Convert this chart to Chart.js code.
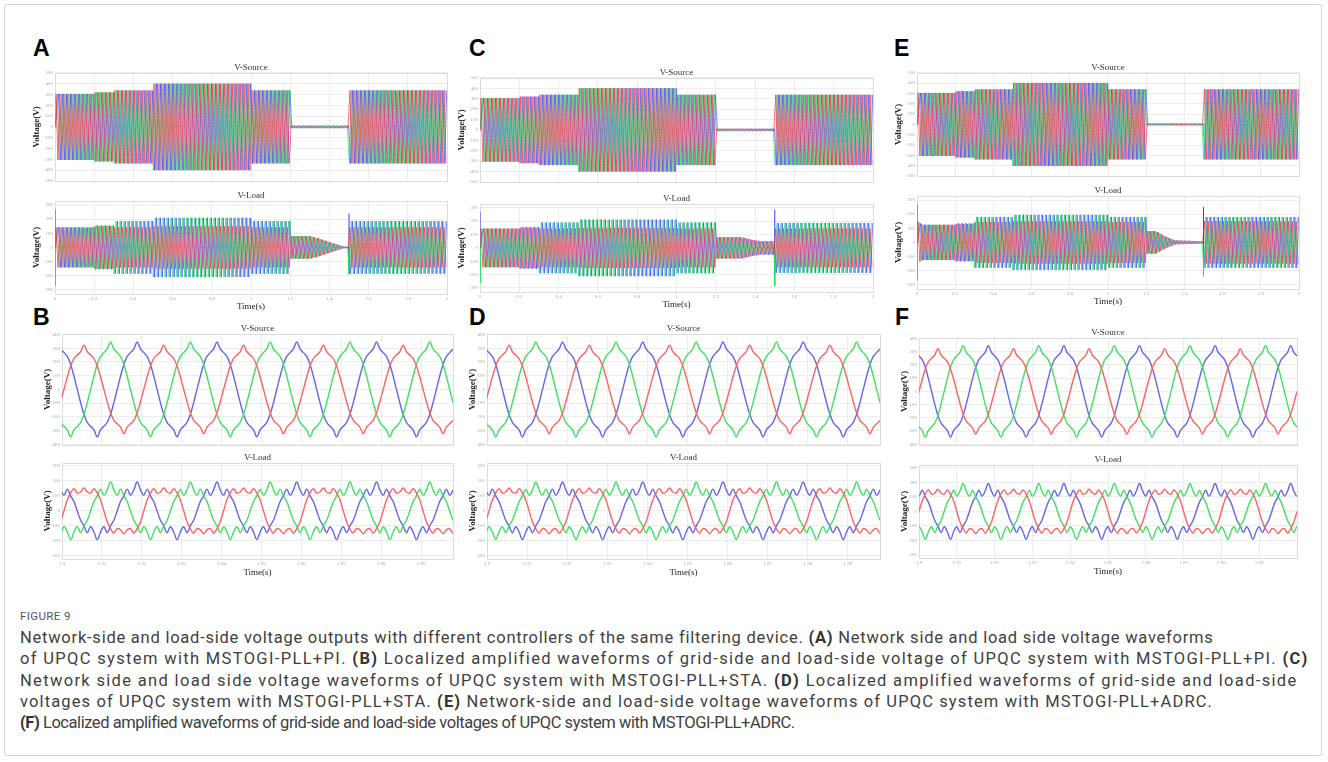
<!DOCTYPE html>
<html>
<head>
<meta charset="utf-8">
<script src="https://cdn.jsdelivr.net/npm/chart.js@4.4.0/dist/chart.umd.min.js"></script>
<style>
body { margin:0; background:#fff; width:1328px; height:762px; position:relative; overflow:hidden; font-family:Roboto, "Noto Sans", sans-serif; }
#card { position:absolute; left:4px; top:4px; width:1318px; height:752px; border:1px solid #d2d2d2; border-radius:3px; box-sizing:border-box; }
.lbl { position:absolute; font:bold 23px "Liberation Sans", Arial, sans-serif; color:#000; line-height:23px; }
canvas { position:absolute; }
#cap { position:absolute; left:20px; top:606px; color:#404040; }
#cap .fig { font-size:11.5px; letter-spacing:0.4px; line-height:21px; color:#555; }
#cap .ln { font-size:16.5px; line-height:21.3px; white-space:nowrap; }
#cap .ln span { display:inline-block; }
#cap b { font-weight:700; color:#333; }
</style>
</head>
<body>
<div id="card"></div>
<div class="lbl" style="left:33px;top:37px">A</div>
<div class="lbl" style="left:33px;top:306px">B</div>
<div class="lbl" style="left:469px;top:37px">C</div>
<div class="lbl" style="left:469px;top:306px">D</div>
<div class="lbl" style="left:894px;top:37px">E</div>
<div class="lbl" style="left:895px;top:306px">F</div>

<div id="cap">
  <div class="fig">FIGURE 9</div>
  <div class="ln"><span>Network-side and load-side voltage outputs with different controllers of the same filtering device. <b>(A)</b> Network side and load side voltage waveforms</span></div>
  <div class="ln"><span>of UPQC system with MSTOGI-PLL+PI. <b>(B)</b> Localized amplified waveforms of grid-side and load-side voltage of UPQC system with MSTOGI-PLL+PI. <b>(C)</b></span></div>
  <div class="ln"><span>Network side and load side voltage waveforms of UPQC system with MSTOGI-PLL+STA. <b>(D)</b> Localized amplified waveforms of grid-side and load-side</span></div>
  <div class="ln"><span>voltages of UPQC system with MSTOGI-PLL+STA. <b>(E)</b> Network-side and load-side voltage waveforms of UPQC system with MSTOGI-PLL+ADRC.</span></div>
  <div class="ln"><span><b>(F)</b> Localized amplified waveforms of grid-side and load-side voltages of UPQC system with MSTOGI-PLL+ADRC.</span></div>
</div>

<script>
// ---- tick labels ----
const overviewTicks = [0, 0.2, 0.4, 0.6, 0.8, 1, 1.2, 1.4, 1.6, 1.8, 2];
const zoomTicks = [1.9, 1.91, 1.92, 1.93, 1.94, 1.95, 1.96, 1.97, 1.98, 1.99];
const srcTicksOverview = [-500, -400, -300, -200, -100, 0, 100, 200, 300, 400, 500];
const loadTicks = [-300, -200, -100, 0, 100, 200, 300];
const srcTicksZoom = [-400, -300, -200, -100, 0, 100, 200, 300, 400];

// ---- overview envelopes (time keypoints, peak voltage) ----
const srcEnvT = [0, 0.2, 0.2, 0.3, 0.3, 0.5, 0.5, 1.0, 1.0, 1.2, 1.2, 1.5, 1.5, 2];
const srcEnvA = [305, 305, 320, 320, 338, 338, 400, 400, 338, 338, 12, 12, 338, 338];
const srcEnvC = [305, 305, 320, 320, 338, 338, 400, 400, 338, 338, 12, 12, 338, 338];
const srcEnvE = [305, 305, 322, 322, 340, 340, 402, 402, 340, 340, 10, 10, 340, 340];

const loadEnvT_A = [0, 0.2, 0.2, 0.3, 0.3, 0.5, 0.5, 1.0, 1.0, 1.2, 1.2, 1.3, 1.35, 1.4, 1.45, 1.48, 1.5, 1.5, 2];
const loadEnvA   = [142, 142, 155, 155, 187, 187, 210, 210, 187, 187, 80, 80, 62, 38, 16, 4, 4, 187, 187];
const loadRedA   = [142, 142, 150, 150, 142, 142, 150, 150, 142, 142, 80, 80, 62, 38, 16, 4, 4, 142, 142];
const loadSpikeA = { t: [0, 1.5], hi: [270, 240], lo: [-270, -190] };

const loadEnvT_C = [0, 0.2, 0.2, 0.3, 0.3, 0.5, 0.5, 1.0, 1.0, 1.2, 1.2, 1.33, 1.38, 1.43, 1.5, 1.5, 2];
const loadEnvC   = [145, 145, 157, 157, 190, 190, 212, 212, 190, 190, 80, 80, 62, 50, 50, 187, 187];
const loadRedC   = [145, 145, 150, 150, 145, 145, 150, 150, 145, 145, 80, 80, 62, 50, 50, 145, 145];
const loadSpikeC = { t: [0, 1.5], hi: [270, 285], lo: [-260, -285] };

const loadEnvT_E = [0, 0.03, 0.2, 0.2, 0.3, 0.3, 0.5, 0.5, 1.0, 1.0, 1.2, 1.2, 1.25, 1.3, 1.35, 1.5, 1.5, 2];
const loadEnvE   = [150, 125, 125, 135, 135, 180, 180, 195, 195, 180, 180, 80, 80, 42, 15, 8, 180, 180];
const loadRedE   = [150, 125, 125, 130, 130, 145, 145, 150, 150, 145, 145, 80, 80, 42, 15, 8, 150, 150];
const loadSpikeE = { t: [0, 1.5], hi: [270, 250], lo: [-270, -240] };

const srcRedCycle = [0, 90, 170, 225, 250, 275, 322, 275, 250, 225, 170, 90,
                     0, -90, -170, -225, -250, -275, -322, -275, -250, -225, -170, -90];
const srcGBCycle  = [0, 96, 182, 240, 268, 295, 345, 295, 268, 240, 182, 96,
                     0, -96, -182, -240, -268, -295, -345, -295, -268, -240, -182, -96];
const loadRedCycle = [0, 72, 118, 148, 118, 126, 152, 126, 118, 148, 118, 72,
                      0, -72, -118, -148, -118, -126, -152, -126, -118, -148, -118, -72];
const loadGBCycle  = [0, 62, 100, 145, 105, 140, 192, 140, 105, 145, 100, 62,
                      0, -62, -100, -145, -105, -140, -192, -140, -105, -145, -100, -62];
const zeroCross = { B: 1.9005, D: 1.9005, F: 1.9 };

// caption line right edges (px)
const captionRight = [1213, 1308, 1297, 1213, 794];

const RED = 'rgba(255,30,60,0.7)', GREEN = 'rgba(20,225,80,0.7)', BLUE = 'rgba(50,60,255,0.7)';
const RED2 = '#ff6262', GREEN2 = '#3fe060', BLUE2 = '#6464ec';

function envAt(T, V, t) {
    for (let i = 0; i < T.length - 1; i++) {
        if (t >= T[i] && t <= T[i + 1]) {
            if (T[i + 1] === T[i]) return V[i + 1];
            return V[i] + (V[i + 1] - V[i]) * (t - T[i]) / (T[i + 1] - T[i]);
        }
    }
    return V[V.length - 1];
}

// 50 Hz carrier drawn through its peaks, amplitude from the envelope
function overviewPhase(T, V, shift) {
    const pts = [{ x: 0, y: 0 }];
    let k = 0;
    while (true) {
        const t = 0.005 + shift + k * 0.01;
        if (t > 2) break;
        const sign = k % 2 === 0 ? 1 : -1;
        pts.push({ x: t, y: sign * envAt(T, V, t) });
        k++;
    }
    return pts;
}

function spikes(sp, key) {
    const pts = [];
    sp.t.forEach((t, i) => {
        pts.push({ x: t, y: 0 }, { x: t, y: sp[key][i] }, { x: t, y: null });
    });
    return pts;
}

function tile(cycle, t0, from, to) {
    const n = cycle.length, dt = 0.02 / n;
    const pts = [];
    const kStart = Math.floor((from - t0) / dt) - 1;
    const kEnd = Math.ceil((to - t0) / dt) + 1;
    for (let k = kStart; k <= kEnd; k++) {
        pts.push({ x: t0 + k * dt, y: cycle[((k % n) + n) % n] });
    }
    return pts;
}

const framePlugin = {
    id: 'frame',
    beforeDatasetsDraw(chart) {
        const a = chart.chartArea, c = chart.ctx;
        c.save();
        c.strokeStyle = '#dcdcdc';
        c.lineWidth = 1;
        c.strokeRect(Math.round(a.left) + 0.5, Math.round(a.top) + 0.5, Math.round(a.right - a.left), Math.round(a.bottom - a.top));
        c.restore();
    }
};

function makeChart(r) {
    const titleH = 10.8;
    const padR = 4;
    const canvas = document.createElement('canvas');
    const w = (r.right - r.left) + r.yW + padR;
    const h = titleH + (r.bottom - r.top) + r.xH;
    canvas.width = Math.round(w);
    canvas.height = Math.round(h);
    canvas.style.left = (r.left - r.yW) + 'px';
    canvas.style.top = (r.top - titleH) + 'px';
    canvas.style.width = Math.round(w) + 'px';
    canvas.style.height = Math.round(h) + 'px';
    document.body.appendChild(canvas);

    const serif = 'Liberation Serif';
    new Chart(canvas.getContext('2d'), {
        type: 'line',
        data: { datasets: r.datasets },
        options: {
            responsive: false,
            animation: false,
            events: [],
            layout: { padding: { left: 0, right: padR, top: 0, bottom: 0 } },
            plugins: {
                legend: { display: false },
                tooltip: { enabled: false },
                title: {
                    display: true, text: r.title, fullSize: false,
                    color: '#333', font: { family: serif, size: 9, weight: 'normal' },
                    padding: { top: 0, bottom: 0 }
                }
            },
            scales: {
                x: {
                    type: 'linear', min: r.xMin, max: r.xMax,
                    afterBuildTicks: s => { s.ticks = r.xTicks.map(v => ({ value: v })); },
                    afterFit: s => { s.height = r.xH; },
                    grid: { color: '#ededed', drawTicks: false },
                    border: { display: false },
                    ticks: {
                        display: r.showX, autoSkip: false, maxRotation: 0, padding: 2,
                        color: '#a8a8a8', font: { family: serif, size: 5 },
                        callback: v => String(Math.round(v * 100) / 100)
                    },
                    title: {
                        display: r.showX, text: 'Time(s)', color: '#222',
                        font: { family: serif, size: 9 }, padding: 0
                    }
                },
                y: {
                    min: r.yMin, max: r.yMax,
                    afterBuildTicks: s => { s.ticks = r.yTicks.map(v => ({ value: v })); },
                    afterFit: s => { s.width = r.yW; },
                    grid: { color: '#ededed', drawTicks: false },
                    border: { display: false },
                    ticks: {
                        autoSkip: false, padding: 2,
                        color: '#a8a8a8', font: { family: serif, size: 5 }
                    },
                    title: {
                        display: true, text: 'Voltage(V)', color: '#222',
                        font: { family: serif, size: 9, weight: 'bold' }, padding: 0
                    }
                }
            }
        },
        plugins: [framePlugin]
    });
}

function lineDs(data, color, width, tension) {
    return { data, borderColor: color, borderWidth: width, pointRadius: 0, tension, fill: false, spanGaps: false };
}

function overviewSource(left, right, top, bottom, env) {
    makeChart({
        left, right, top, bottom, yW: 24, xH: 2, title: 'V-Source', showX: false,
        xMin: 0, xMax: 2, xTicks: overviewTicks, yMin: -500, yMax: 500, yTicks: srcTicksOverview,
        datasets: [
            lineDs(overviewPhase(srcEnvT, env, 0), RED, 0.9, 0),
            lineDs(overviewPhase(srcEnvT, env, 0.02 / 3), GREEN, 0.9, 0),
            lineDs(overviewPhase(srcEnvT, env, 0.04 / 3), BLUE, 0.9, 0)
        ]
    });
}

function overviewLoad(left, right, top, bottom, T, env, red, sp) {
    makeChart({
        left, right, top, bottom, yW: 24, xH: 18, title: 'V-Load', showX: true,
        xMin: 0, xMax: 2, xTicks: overviewTicks, yMin: -330, yMax: 330, yTicks: loadTicks,
        datasets: [
            lineDs(overviewPhase(T, red, 0), RED, 0.9, 0),
            lineDs(overviewPhase(T, env, 0.02 / 3), GREEN, 0.9, 0),
            lineDs(overviewPhase(T, env, 0.04 / 3), BLUE, 0.9, 0),
            lineDs(spikes(sp, 'hi'), '#3a3aff', 1, 0),
            lineDs(spikes(sp, 'lo'), '#19e04e', 1, 0)
        ]
    });
}

function zoomSource(left, right, top, bottom, t0, xMax) {
    makeChart({
        left, right, top, bottom, yW: 20, xH: 2, title: 'V-Source', showX: false,
        xMin: 1.9, xMax, xTicks: zoomTicks, yMin: -405, yMax: 405, yTicks: srcTicksZoom,
        datasets: [
            lineDs(tile(srcRedCycle, t0, 1.9, xMax), RED2, 1.4, 0.4),
            lineDs(tile(srcGBCycle, t0 + 0.02 / 3, 1.9, xMax), GREEN2, 1.4, 0.4),
            lineDs(tile(srcGBCycle, t0 + 0.04 / 3, 1.9, xMax), BLUE2, 1.4, 0.4)
        ]
    });
}

function zoomLoad(left, right, top, bottom, t0, xMax) {
    makeChart({
        left, right, top, bottom, yW: 20, xH: 19, title: 'V-Load', showX: true,
        xMin: 1.9, xMax, xTicks: zoomTicks, yMin: -320, yMax: 320, yTicks: loadTicks,
        datasets: [
            lineDs(tile(loadRedCycle, t0, 1.9, xMax), RED2, 1.4, 0.4),
            lineDs(tile(loadGBCycle, t0 + 0.02 / 3, 1.9, xMax), GREEN2, 1.4, 0.4),
            lineDs(tile(loadGBCycle, t0 + 0.04 / 3, 1.9, xMax), BLUE2, 1.4, 0.4)
        ]
    });
}

// column A / B
overviewSource(55, 447, 73, 184, srcEnvA);
overviewLoad(55, 447, 201, 294, loadEnvT_A, loadEnvA, loadRedA, loadSpikeA);
zoomSource(62, 453, 334, 448, zeroCross.B, 1.998);
zoomLoad(62, 453, 463, 559, zeroCross.B, 1.998);

// column C / D
overviewSource(480, 873, 78, 185, srcEnvC);
overviewLoad(480, 873, 204, 292, loadEnvT_C, loadEnvC, loadRedC, loadSpikeC);
zoomSource(487, 880, 334, 448, zeroCross.D, 1.998);
zoomLoad(487, 880, 463, 559, zeroCross.D, 1.998);

// column E / F
overviewSource(917, 1299, 73, 179, srcEnvE);
overviewLoad(917, 1299, 196, 289, loadEnvT_E, loadEnvE, loadRedE, loadSpikeE);
zoomSource(919, 1297, 338, 448, zeroCross.F, 2);
zoomLoad(919, 1297, 465, 558, zeroCross.F, 2);

// fit caption lines to the widths seen in the figure
document.querySelectorAll('#cap .ln span').forEach((span, i) => {
    const natural = span.getBoundingClientRect().width;
    const chars = span.textContent.length;
    span.style.letterSpacing = ((captionRight[i] - 20 - natural) / chars) + 'px';
});
</script>
</body>
</html>
